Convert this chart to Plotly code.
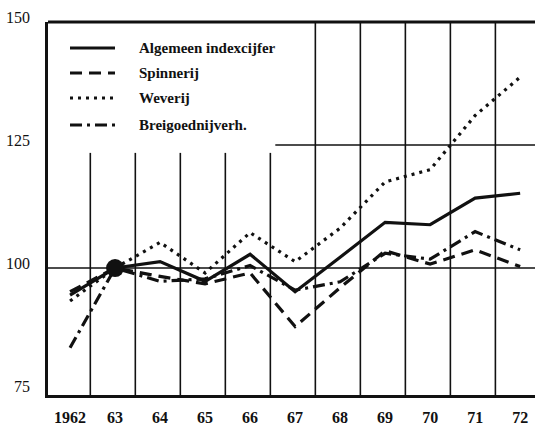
import plotly.graph_objects as go

# ---- data ----
years = [1962, 1963, 1964, 1965, 1966, 1967, 1968, 1969, 1970, 1971, 1972]
year_labels = ["1962", "63", "64", "65", "66", "67", "68", "69", "70", "71", "72"]
series_names = ["Algemeen indexcijfer", "Spinnerij", "Weverij", "Breigoednijverh."]
algemeen = [94.5, 100, 101.3, 97.3, 102.8, 95.2, 102.2, 109.3, 108.8, 114.2, 115.2]
spinnerij = [95.2, 100, 98.3, 96.8, 99.0, 88.1, 96.0, 103.5, 100.8, 103.7, 100.3]
weverij = [93.3, 100, 105.2, 99.0, 107.2, 101.3, 108.1, 117.5, 120.0, 131.0, 138.8]
breigoed = [83.8, 100, 97.3, 97.8, 100.5, 95.5, 97.2, 103.0, 101.8, 107.4, 103.7]
y_ticks = [75, 100, 125, 150]
base_year = 1963
base_value = 100

# ---- layout constants ----
W, H = 535, 425
ML, MR, MT, MB = 48, 0, 22, 30
X_RANGE = [1961.51, 1972.33]
Y_RANGE = [74.2, 150]
INK = "#111111"
FONT = "Liberation Serif"

dashes = ["solid", "12px,7px", "3px,5px", "12px,5px,3px,5px"]
values = [algemeen, spinnerij, weverij, breigoed]

fig = go.Figure()
for name, vals, d in zip(series_names, values, dashes):
    fig.add_trace(go.Scatter(
        x=years, y=vals, mode="lines", name=name,
        line=dict(color=INK, width=3.2, dash=d),
        showlegend=False, hoverinfo="skip",
    ))

fig.add_trace(go.Scatter(
    x=[base_year], y=[base_value], mode="markers",
    marker=dict(color=INK, size=18), showlegend=False, hoverinfo="skip",
))

shapes = []
# vertical separators between years
for i, yr in enumerate(years[:-1]):
    x = yr + 0.45
    y0 = 74.2
    y1 = 123.4 if i < 5 else 150
    shapes.append(dict(type="line", xref="x", yref="y", x0=x, x1=x, y0=y0, y1=y1,
                       line=dict(color=INK, width=1.6), layer="below"))
# horizontal reference lines
shapes.append(dict(type="line", xref="paper", yref="y", x0=0, x1=1, y0=100, y1=100,
                   line=dict(color=INK, width=1.6), layer="below"))
shapes.append(dict(type="line", xref="x", yref="y", x0=1966.56, x1=X_RANGE[1], y0=125, y1=125,
                   line=dict(color=INK, width=1.4), layer="below"))
# top frame line
shapes.append(dict(type="line", xref="paper", yref="paper", x0=0, x1=1, y0=1, y1=1,
                   line=dict(color=INK, width=3)))

# custom legend
pw, ph = W - ML - MR, H - MT - MB
def px(x):
    return (x - ML) / pw
def py(y):
    return 1 - (y - MT) / ph

annotations = []
legend_rows = [48, 73, 98, 125]
for name, d, ry in zip(series_names, dashes, legend_rows):
    shapes.append(dict(type="line", xref="paper", yref="paper",
                       x0=px(70), x1=px(115), y0=py(ry), y1=py(ry),
                       line=dict(color=INK, width=3, dash=d)))
    annotations.append(dict(xref="paper", yref="paper", x=px(137), y=py(ry),
                            xanchor="left", yanchor="middle", text=name, showarrow=False,
                            font=dict(family=FONT, size=15, color=INK, weight="bold")))

fig.update_layout(
    width=W, height=H,
    margin=dict(l=ML, r=MR, t=MT, b=MB),
    paper_bgcolor="white", plot_bgcolor="white",
    shapes=shapes, annotations=annotations,
    xaxis=dict(range=X_RANGE, tickvals=years, ticktext=year_labels,
               showgrid=False, zeroline=False, showline=True, linecolor=INK, linewidth=3,
               ticks="", ticklabelstandoff=6,
               tickfont=dict(family=FONT, size=16, color=INK, weight="bold")),
    yaxis=dict(range=Y_RANGE, tickvals=y_ticks, ticktext=[str(v) for v in y_ticks],
               showgrid=False, zeroline=False, showline=True, linecolor=INK, linewidth=2.5,
               ticks="", ticklabelstandoff=12, ticklabelshift=-5,
               tickfont=dict(family=FONT, size=16, color=INK)),
    showlegend=False,
)

fig.write_html(
    "out.html",
    config={"displayModeBar": False},
    post_script="document.body.style.margin='0';document.body.style.overflow='hidden';",
)
